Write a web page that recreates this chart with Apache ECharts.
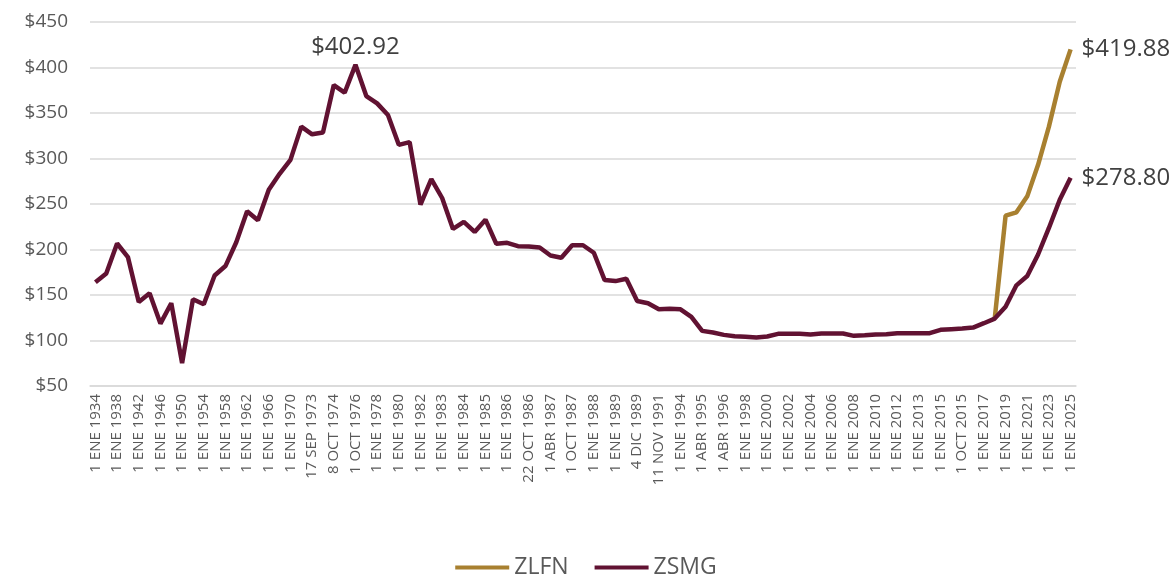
<!DOCTYPE html>
<html lang="es">
<head>
	<meta charset="utf-8">
	<title>Salario mínimo real</title>
	<script src="https://cdn.jsdelivr.net/npm/echarts@6/dist/echarts.min.js"></script>
	<style>
		body { margin: 0; background: #fff; }
		#main { width: 1172px; height: 584px; }
	</style>
</head>
<body>
	<div id="main"></div>
	<script type="text/javascript">
		// fechas (se muestra una de cada dos)
		var fechas = [
			'1 ENE 1934', '1 ENE 1936', '1 ENE 1938', '1 ENE 1940', '1 ENE 1942', '1 ENE 1944',
			'1 ENE 1946', '1 ENE 1948', '1 ENE 1950', '1 ENE 1952', '1 ENE 1954', '1 ENE 1956',
			'1 ENE 1958', '1 ENE 1960', '1 ENE 1962', '1 ENE 1964', '1 ENE 1966', '1 ENE 1968',
			'1 ENE 1970', '1 ENE 1972', '17 SEP 1973', '1 ENE 1974', '8 OCT 1974', '1 ENE 1976',
			'1 OCT 1976', '1 ENE 1977', '1 ENE 1978', '1 ENE 1979', '1 ENE 1980', '1 ENE 1981',
			'1 ENE 1982', '1 NOV 1982', '1 ENE 1983', '14 JUN 1983', '1 ENE 1984', '11 JUN 1984',
			'1 ENE 1985', '4 JUN 1985', '1 ENE 1986', '1 JUN 1986', '22 OCT 1986', '1 ENE 1987',
			'1 ABR 1987', '1 JUL 1987', '1 OCT 1987', '16 DIC 1987', '1 ENE 1988', '1 MAR 1988',
			'1 ENE 1989', '1 JUL 1989', '4 DIC 1989', '16 NOV 1990', '11 NOV 1991', '1 ENE 1993',
			'1 ENE 1994', '1 ENE 1995', '1 ABR 1995', '4 DIC 1995', '1 ABR 1996', '3 DIC 1996',
			'1 ENE 1998', '3 DIC 1998', '1 ENE 2000', '1 ENE 2001', '1 ENE 2002', '1 ENE 2003',
			'1 ENE 2004', '1 ENE 2005', '1 ENE 2006', '1 ENE 2007', '1 ENE 2008', '1 ENE 2009',
			'1 ENE 2010', '1 ENE 2011', '1 ENE 2012', '27 NOV 2012', '1 ENE 2013', '1 ENE 2014',
			'1 ENE 2015', '1 ABR 2015', '1 OCT 2015', '1 ENE 2016', '1 ENE 2017', '1 ENE 2018',
			'1 ENE 2019', '1 ENE 2020', '1 ENE 2021', '1 ENE 2022', '1 ENE 2023', '1 ENE 2024',
			'1 ENE 2025'
		];
		// zona salario mínimo general
		var zsmg = [
			164, 173.7, 206.6, 191.6, 142.3, 151.8, 118.6, 141, 75.2, 145.3,
			139.8, 171.5, 181.8, 208, 242, 232.1, 265.7, 283.2, 298.5, 335,
			326.6, 328.5, 380.7, 372.3, 402.92, 368.6, 360.6, 347.8, 315, 318,
			249.3, 277.4, 256.6, 222.6, 230.3, 219.3, 232.8, 206.2, 207.3, 203.6,
			203.3, 202.2, 193.4, 190.9, 204.7, 204.7, 196.4, 166.4, 165.3, 167.9,
			143.4, 141, 134.3, 135, 134.3, 126, 110.6, 108.8, 106.2, 104.7,
			104, 103.3, 104.4, 107.3, 107.3, 107.3, 106.6, 107.7, 107.7, 107.7,
			105.1, 105.8, 106.6, 106.9, 108, 108, 108, 108, 111.7, 112.4,
			113.1, 114.2, 119, 124.1, 137.2, 160.6, 170.8, 194.5, 223.7, 254.7,
			278.8
		];
		// zona libre de la frontera norte (desde 2018)
		var zlfn = [];
		for (var k = 0; k < 83; k++) zlfn.push(null);
		zlfn = zlfn.concat([124.1, 237.2, 240.9, 258.4, 293.1, 335, 384.3, 419.88]);

		// puntos con etiqueta
		var picoIdx = 24;
		var finIdx = fechas.length - 1;

		var yTicks = { min: 50, max: 450, interval: 50 };
		var fuente = "'Open Sans', 'Noto Sans', sans-serif";

		function conEtiqueta(arr, marcas) {
			return arr.map(function (v, i) {
				if (!(i in marcas)) return v;
				return {
					value: v,
					label: {
						show: true, position: marcas[i], distance: marcas[i] === 'right' ? 11 : 6,
						formatter: function (p) { return '$' + p.value.toFixed(2); },
						color: '#404040', fontSize: 24, fontFamily: fuente
					}
				};
			});
		}
		var marcasZlfn = {}; marcasZlfn[finIdx] = 'right';
		var marcasZsmg = {}; marcasZsmg[picoIdx] = 'top'; marcasZsmg[finIdx] = 'right';

		var myChart = echarts.init(document.getElementById('main'));
		var option = {
			animation: false,
			textStyle: { fontFamily: fuente },
			grid: { left: 90, right: 96, top: 22, bottom: 198 },
			legend: {
				bottom: 0, left: 'center',
				icon: 'rect', itemWidth: 54, itemHeight: 4, itemGap: 26,
				textStyle: { color: '#595959', fontSize: 23, fontFamily: fuente },
				data: ['ZLFN', 'ZSMG']
			},
			xAxis: {
				type: 'category',
				data: fechas,
				boundaryGap: true,
				axisLine: { lineStyle: { color: '#d9d9d9', width: 1.5 } },
				axisTick: { show: false },
				axisLabel: {
					interval: 1, rotate: 90, color: '#595959', fontSize: 15,
					fontFamily: fuente, margin: 8
				}
			},
			yAxis: {
				type: 'value',
				min: yTicks.min, max: yTicks.max, interval: yTicks.interval,
				axisLine: { show: false },
				axisTick: { show: false },
				splitLine: { lineStyle: { color: '#d9d9d9', width: 1.5 } },
				axisLabel: {
					color: '#595959', fontSize: 19, fontFamily: fuente, margin: 22,
					formatter: function (v) { return '$' + v; }
				}
			},
			series: [
				{
					name: 'ZLFN', type: 'line', showSymbol: true, symbol: 'circle', symbolSize: 0,
					connectNulls: false,
					lineStyle: { color: '#A88030', width: 4.5 },
					itemStyle: { color: '#A88030' },
					data: conEtiqueta(zlfn, marcasZlfn)
				},
				{
					name: 'ZSMG', type: 'line', showSymbol: true, symbol: 'circle', symbolSize: 0,
					lineStyle: { color: '#611232', width: 4.5 },
					itemStyle: { color: '#611232' },
					data: conEtiqueta(zsmg, marcasZsmg)
				}
			]
		};
		myChart.setOption(option);
	</script>
</body>
</html>
